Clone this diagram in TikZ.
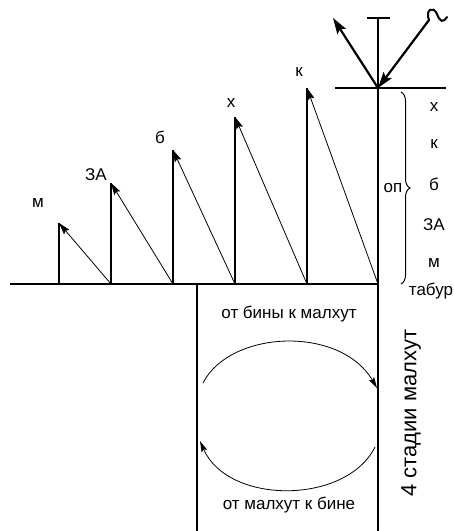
\documentclass[tikz,border=0pt]{standalone}
\usepackage{fontspec}
\setmainfont{Liberation Sans}
\usetikzlibrary{arrows.meta, decorations.pathreplacing}

\begin{document}
\begin{tikzpicture}[
    x=1pt, y=-1pt,
    stem/.style={line width=2.6pt},
    axis/.style={line width=2.2pt},
    ray/.style={line width=0.8pt, -{Stealth[length=12pt, width=7pt, inset=2pt]}},
    beam/.style={line width=2.2pt, -{Stealth[length=16pt, width=10pt, inset=3pt]}},
    turn/.style={line width=0.8pt, -{Stealth[length=11pt, width=6pt, inset=2pt]}},
    lbl/.style={font=\fontsize{17}{20}\selectfont, inner sep=1pt},
]
  \useasboundingbox (0,0) rectangle (454,531);

  % Ground line, column and box
  \coordinate (west) at (10,284);
  \coordinate (foot) at (378,284);
  \coordinate (top) at (378,18);
  \coordinate (bottom) at (378,531);
  \coordinate (boxtop) at (197,284);
  \coordinate (boxbot) at (197,531);
  \draw[axis] (west) -- (foot);
  \draw[axis] (top) -- (bottom);
  \draw[axis] (boxtop) -- (boxbot);
  \draw[axis] (367,18) coordinate (tl) -- (390,18) coordinate (tr);

  % Stems with their letters
  \foreach \n/\x/\y/\t/\lx/\ly in {1/59/223/м/38/203, 2/111/183/ЗА/96/175, 3/173/150/б/160/137,
                                   4/235/117/х/231/103, 5/307/88/к/299/72}{
    \coordinate (base\n) at (\x,284);
    \coordinate (tip\n) at (\x,\y);
    \draw[stem] (base\n) -- (tip\n);
    \node[lbl] (lab\n) at (\lx,\ly) {\t};
  }
  \coordinate (base6) at (foot);
  \foreach \a/\b in {2/1, 3/2, 4/3, 5/4, 6/5}
    \draw[ray] (base\a) -- (tip\b);

  % Horizon with the two beams
  \coordinate (eye) at (378,88);
  \draw[line width=1.6pt] (335,88) coordinate (hl) -- (446,88) coordinate (hr);
  \coordinate (out) at (333,18);
  \coordinate (wave) at (429,20);
  \draw[beam] (eye) -- (out);
  \draw[beam] (wave) -- (eye);
  \draw[line width=2pt, line cap=round] (wave) .. controls (425,10) and (433,5) .. (437,14)
    .. controls (440,22) and (443,23) .. (447,17);

  % Brace with the right column
  \draw[line width=1pt, decorate, decoration={brace, amplitude=9pt}]
    (401,92) coordinate (bt) -- (401,284) coordinate (bb);
  \node[lbl] (op) at (393,188) {оп};
  \foreach \n/\t/\y in {1/х/107, 2/к/144, 3/б/184, 4/ЗА/225, 5/м/263}
    \node[lbl] (side\n) at (434,\y) {\t};
  \node[lbl] (tabur) at (431,291) {табур};

  % Circulation in the box
  \node[lbl] (down) at (289,314) {от бины к малхут};
  \node[lbl] (up) at (289,505) {от малхут к бине};
  \coordinate (a1) at (203,383);
  \coordinate (a2) at (377,388);
  \coordinate (c1) at (375,447);
  \coordinate (c2) at (200,441);
  \draw[turn] (a1) .. controls (230,330) and (340,325) .. (a2);
  \draw[turn] (c1) .. controls (346,505) and (228,505) .. (c2);
  \node[font=\fontsize{22}{26}\selectfont, rotate=90] (stages) at (411,413) {4 стадии малхут};
\end{tikzpicture}
\end{document}
